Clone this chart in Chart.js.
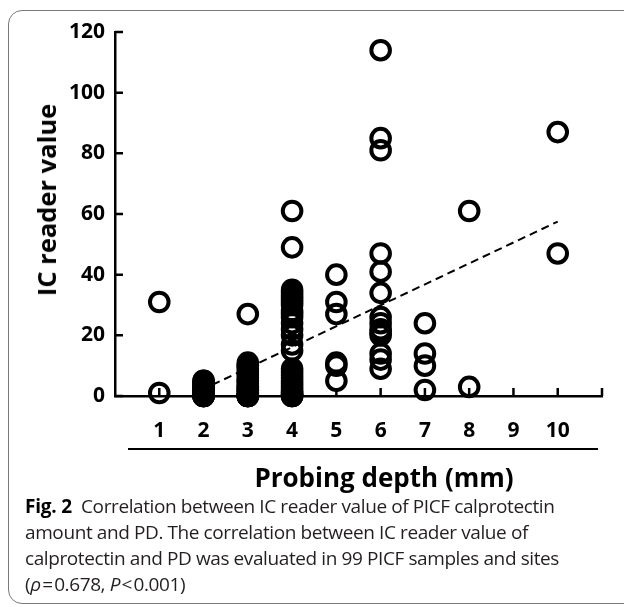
<!DOCTYPE html>
<html><head><meta charset="utf-8">
<script src="https://cdn.jsdelivr.net/npm/chart.js@4"></script>
<style>
html,body{margin:0;padding:0;background:#fff;width:624px;height:607px;overflow:hidden;position:relative;font-family:'Open Sans',sans-serif;}
#frame{position:absolute;left:8px;top:10px;width:700px;height:594px;border:1.3px solid #7a7a7a;border-radius:14px;box-sizing:border-box;}
#wrap{position:absolute;left:0;top:0;width:624px;height:460px;}
#ytitle{position:absolute;left:46px;top:200px;transform:translate(-50%,-50%) rotate(-90deg);font-weight:700;font-size:25.5px;white-space:nowrap;color:#000;}
#xtitle{position:absolute;left:384px;top:477px;transform:translate(-50%,-50%);font-weight:700;font-size:26px;white-space:nowrap;color:#000;}
#rule{position:absolute;left:128px;top:448px;width:470px;height:2px;background:#000;}
#caption{position:absolute;left:25px;top:493px;font-size:19px;line-height:26px;letter-spacing:-0.4px;color:#231f20;white-space:nowrap;}
#caption b{color:#000;letter-spacing:-0.2px;}
</style></head>
<body>
<div id="frame"></div>
<div id="wrap"><canvas id="c" width="624" height="460"></canvas></div>
<div id="ytitle">IC reader value</div>
<div id="rule"></div>
<div id="xtitle">Probing depth (mm)</div>
<div id="caption"><b>Fig. 2</b>&nbsp; Correlation between IC reader value of PICF calprotectin<br>amount and PD. The correlation between IC reader value of<br>calprotectin and PD was evaluated in 99 PICF samples and sites<br>(<i>ρ</i>&#8202;=&#8202;0.678, <i>P</i>&#8202;&lt;&#8202;0.001)</div>
<script>
// Probing depth categories and tick labels
const depthCategories = [1, 2, 3, 4, 5, 6, 7, 8, 9, 10];
const xTickLabels = ['1', '2', '3', '4', '5', '6', '7', '8', '9', '10'];
const yTickValues = [0, 20, 40, 60, 80, 100, 120];

// IC reader values per probing depth (mm)
const pd1Values = [31, 1];
const pd2Values = [0, 0, 0, 0, 0, 1, 1, 1, 1, 2, 2, 2, 3, 3, 4, 4, 5, 5];
const pd3Values = [27, 11, 10, 10, 9, 8, 7, 6, 5, 5, 4, 3, 3, 2, 2, 1, 1, 0, 0, 0, 0, 0];
const pd4Values = [61, 49, 35, 34, 33, 32, 31, 30, 28, 27, 26, 24, 22, 20, 17, 15, 9, 8, 7, 6, 5, 4, 3, 2, 1, 1, 0, 0, 0];
const pd5Values = [40, 31, 27, 11, 10, 5];
const pd6Values = [114, 85, 81, 47, 41, 34, 26, 24, 22, 21, 20, 14, 12, 9];
const pd7Values = [24, 14, 10, 2];
const pd8Values = [61, 3];
const pd9Values = [];
const pd10Values = [87, 47];

// Regression (dashed) line end points
const fitX = [2.2, 10];
const fitY = [3.7, 57.5];

const valuesByDepth = [pd1Values, pd2Values, pd3Values, pd4Values, pd5Values,
  pd6Values, pd7Values, pd8Values, pd9Values, pd10Values];
const points = [];
depthCategories.forEach((d, i) => valuesByDepth[i].forEach(v => points.push({x: d, y: v})));
const fitLine = fitX.map((x, i) => ({x: x, y: fitY[i]}));

const innerTicks = {
  id: 'innerTicks',
  afterDraw(chart) {
    const ctx = chart.ctx, xs = chart.scales.x, ys = chart.scales.y, a = chart.chartArea;
    ctx.save();
    ctx.strokeStyle = '#000';
    ctx.lineWidth = 2.5;
    ctx.beginPath();
    for (let v = 1; v <= 11; v++) {
      const px = xs.getPixelForValue(v);
      ctx.moveTo(px, a.bottom); ctx.lineTo(px, a.bottom - 8);
    }
    yTickValues.forEach(v => {
      const py = ys.getPixelForValue(v);
      ctx.moveTo(a.left, py); ctx.lineTo(a.left + 8, py);
    });
    ctx.stroke();
    ctx.restore();
  }
};

new Chart(document.getElementById('c'), {
  type: 'scatter',
  data: {
    datasets: [
      {
        data: points,
        pointStyle: 'circle',
        pointRadius: 9.3,
        pointHoverRadius: 9.3,
        borderWidth: 4,
        borderColor: '#000',
        backgroundColor: 'rgba(0,0,0,0)',
        clip: false
      },
      {
        type: 'line',
        data: fitLine,
        showLine: true,
        borderColor: '#000',
        borderWidth: 2,
        borderDash: [8, 5],
        pointRadius: 0,
        fill: false,
        clip: false
      }
    ]
  },
  options: {
    responsive: false,
    animation: false,
    events: [],
    layout: {padding: {top: 32, right: 20, left: 0, bottom: 0}},
    plugins: {legend: {display: false}, tooltip: {enabled: false}},
    scales: {
      x: {
        type: 'linear', min: 0, max: 11,
        afterFit(s) { s.height = 64; },
        grid: {display: false, drawTicks: false},
        border: {display: true, color: '#000', width: 2.5},
        ticks: {
          stepSize: 1, padding: 22, color: '#000', maxRotation: 0, autoSkip: false,
          font: {family: 'Open Sans', weight: 'bold', size: 21},
          callback: v => (v >= 1 && v <= 10) ? xTickLabels[v - 1] : ''
        }
      },
      y: {
        type: 'linear', min: 0, max: 120,
        afterFit(s) { s.width = 115; },
        grid: {display: false, drawTicks: false},
        border: {display: true, color: '#000', width: 2.5},
        afterBuildTicks(s) { s.ticks = yTickValues.map(v => ({value: v})); },
        ticks: {
          padding: 10, color: '#000',
          font: {family: 'Open Sans', weight: 'bold', size: 21}
        }
      }
    }
  },
  plugins: [innerTicks]
});
</script>
</body></html>
